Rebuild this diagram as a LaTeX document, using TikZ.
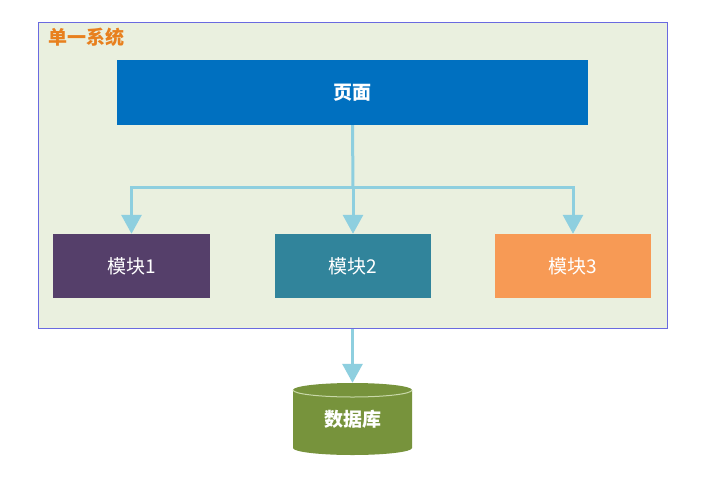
\documentclass[tikz,border=0pt]{standalone}
\usepackage{fontspec}
\newfontfamily\cjk{Noto Sans CJK SC}
\usetikzlibrary{arrows.meta}
\definecolor{framefill}{HTML}{EAF0DF}
\definecolor{frameline}{HTML}{6A6AE0}
\definecolor{titleor}{HTML}{E8801E}
\definecolor{pageblue}{HTML}{0070C0}
\definecolor{modA}{HTML}{553F6A}
\definecolor{modB}{HTML}{31849B}
\definecolor{modC}{HTML}{F79A55}
\definecolor{dbgreen}{HTML}{77933C}
\definecolor{dbedge}{HTML}{C8D8A8}
\definecolor{conn}{HTML}{8ECFDF}
\tikzset{
  blockbox/.style={rectangle, draw=none, inner sep=0pt, text=white, font=\cjk\fontsize{19}{22}\selectfont},
  boldtext/.style={font=\cjk\bfseries\fontsize{19}{22}\selectfont},
  connline/.style={draw=conn, line width=3pt, -{Triangle[length=19pt,width=20pt]}},
  plainline/.style={draw=conn, line width=3pt},
}
\begin{document}
\begin{tikzpicture}[x=1pt,y=-1pt]
\useasboundingbox (0,0) rectangle (713,480);
\fill[white] (0,0) rectangle (713,480);
% frame
\node[draw=frameline, line width=0.8pt, fill=framefill, minimum width=629pt, minimum height=306pt, inner sep=0pt, anchor=north west] (frame) at (38,22) {};
\node[anchor=west, text=titleor, boldtext, inner sep=0pt] (title) at (48,37) {单一系统};
% page
\node[blockbox, fill=pageblue, minimum width=471pt, minimum height=65pt, boldtext] (page) at (352.5,92.5) {页面};
% modules
\node[blockbox, fill=modA, minimum width=157pt, minimum height=64pt] (m1) at (131.5,266) {模块1};
\node[blockbox, fill=modB, minimum width=156pt, minimum height=64pt] (m2) at (353,266) {模块2};
\node[blockbox, fill=modC, minimum width=156pt, minimum height=64pt] (m3) at (573,266) {模块3};
% junction
\coordinate (j) at (353,187);
\coordinate (jl) at (131.5,187);
\coordinate (jr) at (573,187);
\draw[plainline] (page.south) -- (j);
\draw[plainline, line cap=rect] (jl) -- (jr);
\draw[connline] (jl) -- (m1.north);
\draw[connline] (j) -- (m2.north);
\draw[connline] (jr) -- (m3.north);
% database cylinder
\fill[dbgreen] (293,390) -- (293,448) arc[start angle=180, end angle=0, x radius=59.5, y radius=7] -- (412,390) arc[start angle=0, end angle=-180, x radius=59.5, y radius=7] -- cycle;
\draw[dbedge, line width=1pt] (293,390) arc[start angle=180, end angle=0, x radius=59.5, y radius=7];
\node[draw=none, inner sep=0pt, minimum width=119pt, minimum height=72pt, text=white, boldtext] (db) at (352.5,419) {数据库};
\draw[connline] (frame.south -| db.north) -- (db.north);
\end{tikzpicture}
\end{document}
